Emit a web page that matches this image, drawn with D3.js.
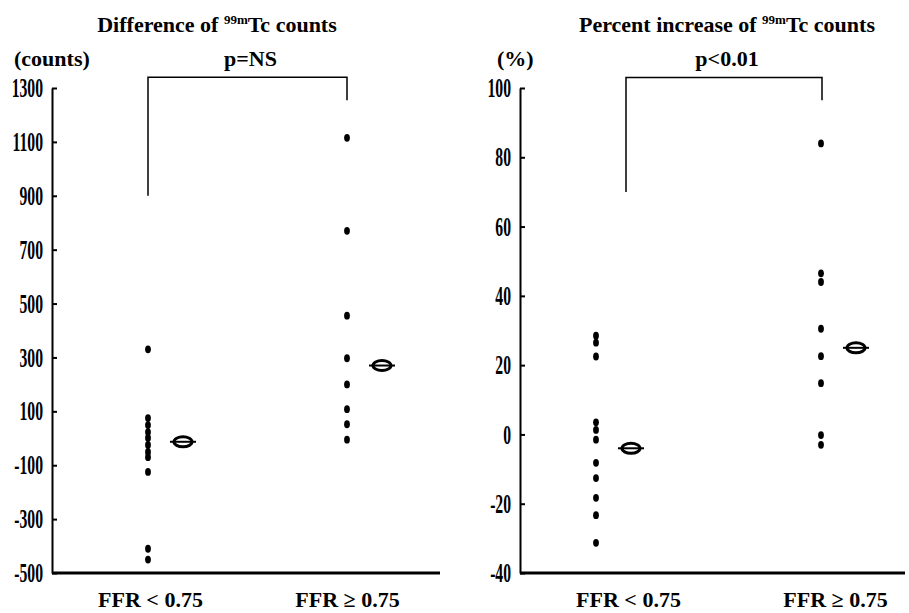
<html>
<script src='https://d3js.org/d3.v7.min.js'></script>
<style>
 body {margin:0; background:white;}
 text {font-family: 'Liberation Serif', 'Times New Roman', serif; font-weight: bold; fill: black;}
</style>
<body onload='init()'>
<svg width=909 height=613></svg>
<script>
// groups and values
const groups = ["FFR < 0.75", "FFR \u2265 0.75"];
const countsLow = [330, 75, 49, 23, 1, -25, -51, -70, -125, -410, -450];
const countsHigh = [1115, 770, 455, 297, 200, 108, 52, -5];
const countsMeans = [-13, 270];
const countTicks = [-500, -300, -100, 100, 300, 500, 700, 900, 1100, 1300];
const pctLow = [28.5, 26.5, 22.5, 3.5, 1.3, -1.5, -8.2, -12.6, -18.3, -23.3, -31.3];
const pctHigh = [84, 46.5, 44, 30.5, 22.6, 14.8, -0.2, -3];
const pctMeans = [-4, 25];
const pctTicks = [-40, -20, 0, 20, 40, 60, 80, 100];

function init() {
  panel({
    x0: 52, x1: 440, xs: [148, 347], bxs: [148, 347], lxs: [150, 347],
    domain: [-500, 1300], ticks: countTicks,
    low: countsLow, high: countsHigh, means: countsMeans,
    title: "Difference of ", titleX: 217, unit: "(counts)", unitX: 14,
    pText: "p=NS", bracket: [900, 1340, 1255]
  });
  panel({
    x0: 520, x1: 905, xs: [596, 821], bxs: [626, 822], lxs: [628, 835],
    domain: [-40, 100], ticks: pctTicks,
    low: pctLow, high: pctHigh, means: pctMeans,
    title: "Percent increase of ", titleX: 727, unit: "(%)", unitX: 497,
    pText: "p<0.01", bracket: [70, 103, 96.5]
  });
}

function panel(p) {
  const svg = d3.select("svg");
  const y = d3.scaleLinear().domain(p.domain).range([573, 88]);
  const x = d3.scalePoint().domain(groups).range(p.xs);
  const xb = d3.scalePoint().domain(groups).range(p.bxs);
  const xl = d3.scalePoint().domain(groups).range(p.lxs);
  const g = svg.append("g");

  // title with superscript
  const t = g.append("text").attr("x", p.titleX).attr("y", 32)
    .attr("text-anchor", "middle").style("font-size", "22px");
  t.append("tspan").text(p.title);
  t.append("tspan").attr("dy", -8).style("font-size", "13px").text("99m");
  t.append("tspan").attr("dy", 8).text("Tc counts");

  g.append("text").attr("x", p.unitX).attr("y", 66).style("font-size", "22px").text(p.unit);

  // y axis, ticks pointing inward
  const sx = 0.58;
  const ax = g.append("g").attr("transform", "translate(" + p.x0 + ",0)")
    .call(d3.axisLeft(y).tickValues(p.ticks).tickFormat(d => String(d))
      .tickSizeInner(-5).tickSizeOuter(0).tickPadding(9));
  ax.select(".domain").attr("stroke-width", 2);
  ax.selectAll(".tick line").attr("stroke-width", 2);
  ax.selectAll(".tick text").style("font-size", "27px")
    .attr("x", -9 / sx).attr("transform", "scale(" + sx + ",1)");

  // base line
  g.append("line").attr("x1", p.x0).attr("x2", p.x1)
    .attr("y1", y(p.domain[0])).attr("y2", y(p.domain[0]))
    .attr("stroke", "black").attr("stroke-width", 3);

  // group labels
  const bx = g.append("g").attr("transform", "translate(0," + y(p.domain[0]) + ")")
    .call(d3.axisBottom(xl).tickSize(0).tickPadding(18));
  bx.select(".domain").remove();
  bx.selectAll("text").style("font-size", "22px");

  // points
  [p.low, p.high].forEach((vals, i) => {
    g.selectAll(null).data(vals).enter().append("ellipse")
      .attr("cx", x(groups[i])).attr("cy", d => y(d))
      .attr("rx", 2.9).attr("ry", 3.9).attr("fill", "black");
  });

  // mean markers
  const m = g.selectAll(null).data(p.means).enter().append("g")
    .attr("transform", (d, i) => "translate(" + (x(groups[i]) + 35) + "," + y(d) + ")");
  m.append("line").attr("x1", -13).attr("x2", 13).attr("stroke", "black").attr("stroke-width", 2);
  m.append("ellipse").attr("rx", 9).attr("ry", 5)
    .attr("fill", "none").attr("stroke", "black").attr("stroke-width", 3);

  // significance bracket
  const b = p.bracket;
  g.append("path")
    .attr("d", "M" + xb(groups[0]) + "," + y(b[0]) + "V" + y(b[1]) + "H" + xb(groups[1]) + "V" + y(b[2]))
    .attr("fill", "none").attr("stroke", "black").attr("stroke-width", 1.5);
  g.append("text").attr("x", (xb(groups[0]) + xb(groups[1])) / 2 + 3).attr("y", 66)
    .attr("text-anchor", "middle").style("font-size", "22px").text(p.pText);
}
</script>
</body>
</html>
